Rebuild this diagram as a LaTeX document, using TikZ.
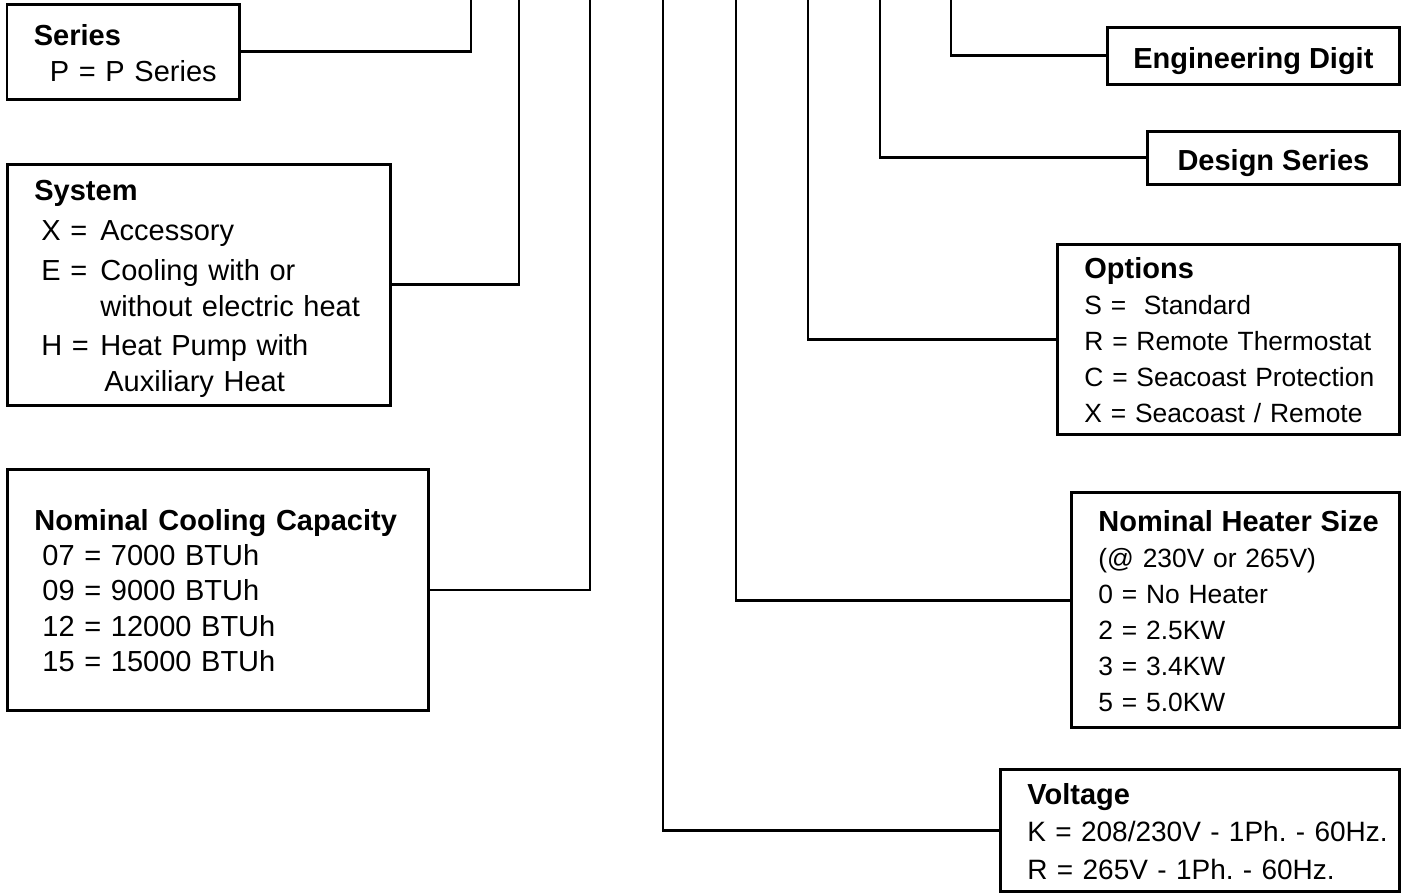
\documentclass[tikz,border=0pt]{standalone}
\usepackage{fontspec}
\setmainfont{Liberation Sans}
\usepackage{tikz}
\usetikzlibrary{positioning}
\frenchspacing

\newcommand{\hdr}[1]{{\fontsize{14.5}{18}\selectfont\bfseries #1}}
\newcommand{\rows}[1]{\raisebox{0pt}[\dimexpr\height+4pt\relax][\depth]{\begin{tabular}{@{}l@{}}#1\end{tabular}}}
\newcommand{\tagtext}[1]{\raisebox{0pt}[\dimexpr\height+5pt\relax][\depth]{#1}}

\begin{document}
\begin{tikzpicture}[x=0.5pt,y=-0.5pt,
  box/.style={draw,line width=1.4pt,anchor=north west,align=left,inner xsep=13.5pt,inner ysep=0pt,
    font=\fontsize{14.5}{18}\selectfont},
  tag/.style={draw,line width=1.4pt,anchor=north west,align=center,inner sep=0pt,
    font=\fontsize{14.5}{18}\selectfont\bfseries},
  wire/.style={line width=1.4pt}]
\useasboundingbox (0,0) rectangle (1403,893);
% left side
\node (ser) [box,text width=89.25pt,minimum height=47.5pt] at (5.5,3)
  {\rows{\hdr{Series}\\ \hspace*{8pt}P = P Series}};
\node (sys) [box,text width=164.5pt,minimum height=120.5pt] at (6,163)
  {\rows{\hdr{System}\\[2pt]
   \hspace*{3.5pt}\makebox[29.5pt][l]{X =}Accessory\\[2pt]
   \hspace*{3.5pt}\makebox[29.5pt][l]{E =}Cooling with or\\
   \hspace*{33pt}without electric heat\\[1.5pt]
   \hspace*{3.5pt}\makebox[29.5pt][l]{H =}Heat Pump with\\
   \hspace*{35pt}Auxiliary Heat}};
\node (cap) [box,text width=183.5pt,minimum height=120.5pt,font=\fontsize{14.5}{17.6}\selectfont] at (6,468)
  {\rows{\hdr{Nominal Cooling Capacity}\\
   \hspace*{4pt}07 = 7000 BTUh\\ \hspace*{4pt}09 = 9000 BTUh\\
   \hspace*{4pt}12 = 12000 BTUh\\ \hspace*{4pt}15 = 15000 BTUh}};
% right side
\node (eng) [tag,minimum width=146pt,minimum height=28.5pt] at (1106,26) {\tagtext{Engineering Digit}};
\node (des) [tag,minimum width=126pt,minimum height=26.5pt] at (1146,130) {\tagtext{Design Series}};
\node (opt) [box,text width=144pt,minimum height=95pt,font=\fontsize{13.2}{18}\selectfont] at (1056,243)
  {\rows{\hdr{Options}\\ S =\ \ Standard\\ R = Remote Thermostat\\
   C = Seacoast Protection\\ X = Seacoast / Remote}};
\node (htr) [box,text width=137pt,minimum height=117.5pt,font=\fontsize{13.2}{18}\selectfont] at (1070,491)
  {\rows{\hdr{Nominal Heater Size}\\ (@ 230V or 265V)\\ 0 = No Heater\\
   2 = 2.5KW\\ 3 = 3.4KW\\ 5 = 5.0KW}};
\node (volt) [box,text width=172.5pt,minimum height=61pt,font=\fontsize{14}{18.75}\selectfont] at (999,768)
  {\rows{\hdr{Voltage}\\ K = 208/230V - 1Ph. - 60Hz.\\ R = 265V - 1Ph. - 60Hz.}};
% line ends at the top edge
\coordinate (t1) at (471,0);
\coordinate (t2) at (519,0);
\coordinate (t3) at (590,0);
\coordinate (t4) at (663,0);
\coordinate (t5) at (736,0);
\coordinate (t6) at (808,0);
\coordinate (t7) at (880,0);
\coordinate (t8) at (951,0);
\draw[wire] (ser.east) -| (t1);
\draw[wire] (sys.east) -| (t2);
\draw[wire] (cap.east) -| (t3);
\draw[wire] (volt.west) -| (t4);
\draw[wire] ([yshift=4.75pt]htr.west) -| (t5);
\draw[wire] (opt.west) -| (t6);
\draw[wire] (des.west) -| (t7);
\draw[wire] (eng.west) -| (t8);
\end{tikzpicture}
\end{document}
